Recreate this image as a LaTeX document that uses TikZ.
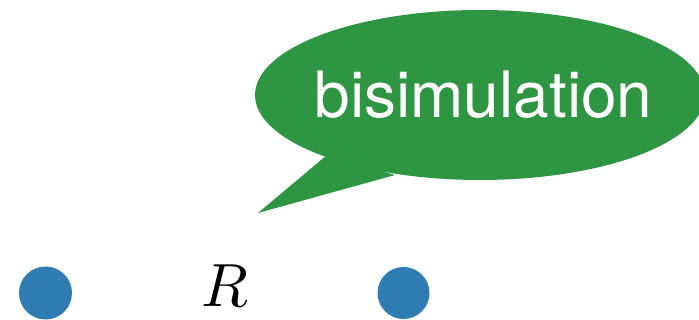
\documentclass[tikz,border=0pt]{standalone}
\usepackage{fontspec}
\setsansfont{TeX Gyre Heros}
\usetikzlibrary{shapes.geometric}
\definecolor{bubblegreen}{RGB}{46,150,66}
\definecolor{dotblue}{RGB}{47,124,178}
\begin{document}
\begin{tikzpicture}[x=1pt,y=1pt,
  dotnode/.style={circle,fill=dotblue,inner sep=0pt,minimum size=53pt},
  bubble/.style={ellipse,fill=bubblegreen,inner sep=0pt,minimum width=450pt,minimum height=170pt}]
\useasboundingbox (0,0) rectangle (699,320);
\clip (0,0) rectangle (699,320);
\node[bubble] (bub) at (480,225) {};
\coordinate (tip) at (258,107);
\fill[bubblegreen] (327,165) -- (tip) -- (395,145) -- cycle;
\node[anchor=base,text=white,inner sep=0pt,font=\sffamily\fontsize{64}{64}\selectfont] (lbl) at (483.5,202) {bisimulation};
\node[dotnode] (a) at (45.5,27) {};
\node[dotnode,minimum size=52pt] (b) at (403.5,27) {};
\node[anchor=base,inner sep=0pt,scale=6.1] (r) at (225,13) {$R$};
\end{tikzpicture}
\end{document}
